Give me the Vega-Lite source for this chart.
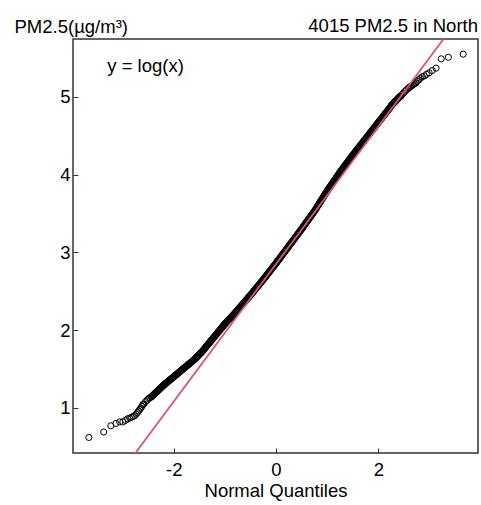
{
"$schema": "https://vega.github.io/schema/vega-lite/v6.json",
"width": 405, "height": 414,
"autosize": {"type": "none"},
"padding": {"left": 73, "top": 39, "right": 3, "bottom": 52},
"background": "white",
"config": {
  "view": {"stroke": "#333333", "strokeWidth": 1.5},
  "font": "Liberation Sans",
  "axis": {"domain": false, "grid": false, "tickSize": -5, "tickColor": "#333333", "tickWidth": 1,
    "labelFont": "Liberation Sans", "labelFontSize": 18.5, "labelColor": "black",
    "titleFont": "Liberation Sans", "titleFontSize": 18.5, "titleFontWeight": "normal", "titleColor": "black"}
},
"title": {"text": "4015 PM2.5 in North", "anchor": "end", "frame": "group", "fontSize": 18.5, "fontWeight": "normal", "font": "Liberation Sans", "color": "black", "offset": 7, "baseline": "alphabetic", "dy": 40},
"datasets": {
  "qq": [
{"x":-3.66,"y":0.62},{"x":-3.37,"y":0.69},{"x":-3.23,"y":0.77},{"x":-3.13,"y":0.80},{"x":-3.056,"y":0.82},{"x":-2.995,"y":0.82},{"x":-2.944,"y":0.84},{"x":-2.90,"y":0.86},{"x":-2.86,"y":0.87},{"x":-2.825,"y":0.88},{"x":-2.792,"y":0.89},{"x":-2.763,"y":0.90},{"x":-2.736,"y":0.92},{"x":-2.71,"y":0.94},{"x":-2.686,"y":0.96},{"x":-2.664,"y":0.98},{"x":-2.643,"y":1.00},{"x":-2.623,"y":1.02},{"x":-2.604,"y":1.04},{"x":-2.586,"y":1.05},{"x":-2.552,"y":1.08},{"x":-2.521,"y":1.10},{"x":-2.492,"y":1.12},{"x":-2.465,"y":1.13},{"x":-2.44,"y":1.14},
{"x":-2.42,"y":1.153},{"x":-2.40,"y":1.165},{"x":-2.38,"y":1.178},{"x":-2.36,"y":1.190},{"x":-2.34,"y":1.203},{"x":-2.32,"y":1.215},{"x":-2.30,"y":1.228},{"x":-2.28,"y":1.240},{"x":-2.26,"y":1.253},{"x":-2.24,"y":1.265},{"x":-2.22,"y":1.278},{"x":-2.20,"y":1.290},
{"x":-2.18,"y":1.301},{"x":-2.16,"y":1.312},{"x":-2.14,"y":1.323},{"x":-2.12,"y":1.334},{"x":-2.10,"y":1.345},{"x":-2.08,"y":1.356},{"x":-2.06,"y":1.367},{"x":-2.04,"y":1.378},{"x":-2.02,"y":1.389},{"x":-2.00,"y":1.400},
{"x":-1.98,"y":1.411},{"x":-1.96,"y":1.422},{"x":-1.94,"y":1.433},{"x":-1.92,"y":1.444},{"x":-1.90,"y":1.455},{"x":-1.88,"y":1.466},{"x":-1.86,"y":1.477},{"x":-1.84,"y":1.488},{"x":-1.82,"y":1.499},{"x":-1.80,"y":1.510},
{"x":-1.78,"y":1.521},{"x":-1.76,"y":1.532},{"x":-1.74,"y":1.543},{"x":-1.72,"y":1.554},{"x":-1.70,"y":1.565},{"x":-1.68,"y":1.576},{"x":-1.66,"y":1.587},{"x":-1.64,"y":1.598},{"x":-1.62,"y":1.609},{"x":-1.60,"y":1.620},
{"x":-1.58,"y":1.633},{"x":-1.56,"y":1.647},{"x":-1.54,"y":1.660},{"x":-1.52,"y":1.673},{"x":-1.50,"y":1.687},{"x":-1.48,"y":1.700},{"x":-1.46,"y":1.713},
{"x":-1.44,"y":1.728},{"x":-1.42,"y":1.744},{"x":-1.40,"y":1.760},{"x":-1.38,"y":1.776},{"x":-1.36,"y":1.792},{"x":-1.34,"y":1.808},{"x":-1.32,"y":1.824},{"x":-1.30,"y":1.840},{"x":-1.28,"y":1.856},{"x":-1.26,"y":1.872},{"x":-1.24,"y":1.888},{"x":-1.22,"y":1.904},{"x":-1.20,"y":1.920},
{"x":-1.18,"y":1.936},{"x":-1.16,"y":1.952},{"x":-1.14,"y":1.968},{"x":-1.12,"y":1.984},{"x":-1.10,"y":2.000},{"x":-1.08,"y":2.016},{"x":-1.06,"y":2.032},{"x":-1.04,"y":2.048},{"x":-1.02,"y":2.064},{"x":-1.00,"y":2.080},
{"x":-0.98,"y":2.094},{"x":-0.96,"y":2.108},{"x":-0.94,"y":2.122},{"x":-0.92,"y":2.136},{"x":-0.90,"y":2.150},{"x":-0.88,"y":2.164},{"x":-0.86,"y":2.178},{"x":-0.84,"y":2.192},{"x":-0.82,"y":2.206},{"x":-0.80,"y":2.220},
{"x":-0.78,"y":2.235},{"x":-0.76,"y":2.251},{"x":-0.74,"y":2.266},{"x":-0.72,"y":2.281},{"x":-0.70,"y":2.297},{"x":-0.68,"y":2.312},{"x":-0.66,"y":2.327},{"x":-0.64,"y":2.343},{"x":-0.62,"y":2.358},{"x":-0.60,"y":2.373},{"x":-0.58,"y":2.389},{"x":-0.56,"y":2.404},{"x":-0.54,"y":2.419},{"x":-0.52,"y":2.435},{"x":-0.50,"y":2.450},
{"x":-0.48,"y":2.466},{"x":-0.46,"y":2.482},{"x":-0.44,"y":2.498},{"x":-0.42,"y":2.514},{"x":-0.40,"y":2.530},{"x":-0.38,"y":2.546},{"x":-0.36,"y":2.562},{"x":-0.34,"y":2.578},{"x":-0.32,"y":2.594},{"x":-0.30,"y":2.610},{"x":-0.28,"y":2.626},{"x":-0.26,"y":2.642},
{"x":-0.24,"y":2.658},{"x":-0.22,"y":2.675},{"x":-0.20,"y":2.692},{"x":-0.18,"y":2.709},{"x":-0.16,"y":2.726},{"x":-0.14,"y":2.742},{"x":-0.12,"y":2.759},{"x":-0.10,"y":2.776},{"x":-0.08,"y":2.793},{"x":-0.06,"y":2.810},{"x":-0.04,"y":2.826},{"x":-0.02,"y":2.843},{"x":0.00,"y":2.860},
{"x":0.02,"y":2.878},{"x":0.04,"y":2.895},{"x":0.06,"y":2.913},{"x":0.08,"y":2.930},{"x":0.10,"y":2.948},{"x":0.12,"y":2.966},{"x":0.14,"y":2.983},{"x":0.16,"y":3.001},{"x":0.18,"y":3.018},{"x":0.20,"y":3.036},{"x":0.22,"y":3.054},{"x":0.24,"y":3.071},
{"x":0.26,"y":3.089},{"x":0.28,"y":3.106},{"x":0.30,"y":3.124},{"x":0.32,"y":3.142},{"x":0.34,"y":3.159},{"x":0.36,"y":3.177},{"x":0.38,"y":3.194},{"x":0.40,"y":3.212},{"x":0.42,"y":3.230},{"x":0.44,"y":3.247},{"x":0.46,"y":3.265},{"x":0.48,"y":3.282},{"x":0.50,"y":3.300},
{"x":0.52,"y":3.318},{"x":0.54,"y":3.337},{"x":0.56,"y":3.355},{"x":0.58,"y":3.374},{"x":0.60,"y":3.392},{"x":0.62,"y":3.410},{"x":0.64,"y":3.429},{"x":0.66,"y":3.447},{"x":0.68,"y":3.466},{"x":0.70,"y":3.484},{"x":0.72,"y":3.502},{"x":0.74,"y":3.521},
{"x":0.76,"y":3.540},{"x":0.78,"y":3.561},{"x":0.80,"y":3.582},{"x":0.82,"y":3.603},{"x":0.84,"y":3.623},{"x":0.86,"y":3.644},{"x":0.88,"y":3.665},{"x":0.90,"y":3.686},{"x":0.92,"y":3.707},{"x":0.94,"y":3.728},{"x":0.96,"y":3.748},{"x":0.98,"y":3.769},{"x":1.00,"y":3.790},
{"x":1.02,"y":3.809},{"x":1.04,"y":3.828},{"x":1.06,"y":3.848},{"x":1.08,"y":3.867},{"x":1.10,"y":3.886},{"x":1.12,"y":3.905},{"x":1.14,"y":3.924},{"x":1.16,"y":3.944},{"x":1.18,"y":3.963},{"x":1.20,"y":3.982},{"x":1.22,"y":4.001},{"x":1.24,"y":4.020},
{"x":1.26,"y":4.039},{"x":1.28,"y":4.056},{"x":1.30,"y":4.074},{"x":1.32,"y":4.092},{"x":1.34,"y":4.109},{"x":1.36,"y":4.127},{"x":1.38,"y":4.144},{"x":1.40,"y":4.162},{"x":1.42,"y":4.180},{"x":1.44,"y":4.197},{"x":1.46,"y":4.215},{"x":1.48,"y":4.232},{"x":1.50,"y":4.250},
{"x":1.52,"y":4.267},{"x":1.54,"y":4.284},{"x":1.56,"y":4.300},{"x":1.58,"y":4.317},{"x":1.60,"y":4.334},{"x":1.62,"y":4.351},{"x":1.64,"y":4.368},{"x":1.66,"y":4.384},{"x":1.68,"y":4.401},{"x":1.70,"y":4.418},{"x":1.72,"y":4.435},{"x":1.74,"y":4.452},
{"x":1.76,"y":4.468},{"x":1.78,"y":4.485},{"x":1.80,"y":4.502},{"x":1.82,"y":4.519},{"x":1.84,"y":4.536},{"x":1.86,"y":4.552},{"x":1.88,"y":4.569},{"x":1.90,"y":4.586},{"x":1.92,"y":4.603},{"x":1.94,"y":4.620},{"x":1.96,"y":4.636},{"x":1.98,"y":4.653},{"x":2.00,"y":4.670},
{"x":2.02,"y":4.687},{"x":2.04,"y":4.704},{"x":2.06,"y":4.720},{"x":2.08,"y":4.737},{"x":2.10,"y":4.754},{"x":2.12,"y":4.771},{"x":2.14,"y":4.788},{"x":2.16,"y":4.804},{"x":2.18,"y":4.821},{"x":2.20,"y":4.838},{"x":2.22,"y":4.855},{"x":2.24,"y":4.872},
{"x":2.26,"y":4.894},{"x":2.28,"y":4.908},{"x":2.30,"y":4.921},{"x":2.32,"y":4.935},{"x":2.34,"y":4.949},{"x":2.36,"y":4.963},{"x":2.38,"y":4.976},{"x":2.40,"y":4.990},{"x":2.42,"y":5.004},
{"x":2.44,"y":5.01},{"x":2.465,"y":5.03},{"x":2.492,"y":5.05},{"x":2.521,"y":5.07},{"x":2.552,"y":5.09},{"x":2.586,"y":5.11},{"x":2.604,"y":5.12},{"x":2.623,"y":5.13},{"x":2.643,"y":5.14},{"x":2.664,"y":5.15},{"x":2.686,"y":5.16},{"x":2.71,"y":5.17},{"x":2.736,"y":5.18},{"x":2.763,"y":5.20},{"x":2.792,"y":5.22},{"x":2.825,"y":5.24},{"x":2.86,"y":5.26},{"x":2.90,"y":5.27},{"x":2.944,"y":5.29},{"x":2.995,"y":5.31},{"x":3.056,"y":5.34},{"x":3.13,"y":5.37},{"x":3.23,"y":5.49},{"x":3.37,"y":5.51},{"x":3.66,"y":5.55},
{"x":-2.43,"y":1.147},{"x":-2.41,"y":1.159},{"x":-2.39,"y":1.172},{"x":-2.37,"y":1.184},{"x":-2.35,"y":1.197},{"x":-2.33,"y":1.209},{"x":-2.31,"y":1.222},{"x":-2.29,"y":1.234},{"x":-2.27,"y":1.247},{"x":-2.25,"y":1.259},{"x":-2.23,"y":1.272},{"x":-2.21,"y":1.284},
{"x":-2.19,"y":1.296},{"x":-2.17,"y":1.307},{"x":-2.15,"y":1.318},{"x":-2.13,"y":1.329},{"x":-2.11,"y":1.340},{"x":-2.09,"y":1.351},{"x":-2.07,"y":1.362},{"x":-2.05,"y":1.373},{"x":-2.03,"y":1.384},{"x":-2.01,"y":1.395},
{"x":-1.99,"y":1.406},{"x":-1.97,"y":1.417},{"x":-1.95,"y":1.428},{"x":-1.93,"y":1.439},{"x":-1.91,"y":1.450},{"x":-1.89,"y":1.461},{"x":-1.87,"y":1.472},{"x":-1.85,"y":1.483},{"x":-1.83,"y":1.494},{"x":-1.81,"y":1.505},
{"x":-1.79,"y":1.516},{"x":-1.77,"y":1.527},{"x":-1.75,"y":1.538},{"x":-1.73,"y":1.549},{"x":-1.71,"y":1.560},{"x":-1.69,"y":1.571},{"x":-1.67,"y":1.582},{"x":-1.65,"y":1.593},{"x":-1.63,"y":1.604},{"x":-1.61,"y":1.615},
{"x":-1.59,"y":1.627},{"x":-1.57,"y":1.640},{"x":-1.55,"y":1.654},{"x":-1.53,"y":1.667},{"x":-1.51,"y":1.680},{"x":-1.49,"y":1.694},{"x":-1.47,"y":1.707},{"x":-1.45,"y":1.720},
{"x":-1.43,"y":1.736},{"x":-1.41,"y":1.752},{"x":-1.39,"y":1.768},{"x":-1.37,"y":1.784},{"x":-1.35,"y":1.800},{"x":-1.33,"y":1.816},{"x":-1.31,"y":1.832},{"x":-1.29,"y":1.848},{"x":-1.27,"y":1.864},{"x":-1.25,"y":1.880},{"x":-1.23,"y":1.896},{"x":-1.21,"y":1.912},
{"x":-1.19,"y":1.928},{"x":-1.17,"y":1.944},{"x":-1.15,"y":1.960},{"x":-1.13,"y":1.976},{"x":-1.11,"y":1.992},{"x":-1.09,"y":2.008},{"x":-1.07,"y":2.024},{"x":-1.05,"y":2.040},{"x":-1.03,"y":2.056},{"x":-1.01,"y":2.072},
{"x":-0.99,"y":2.087},{"x":-0.97,"y":2.101},{"x":-0.95,"y":2.115},{"x":-0.93,"y":2.129},{"x":-0.91,"y":2.143},{"x":-0.89,"y":2.157},{"x":-0.87,"y":2.171},{"x":-0.85,"y":2.185},{"x":-0.83,"y":2.199},{"x":-0.81,"y":2.213},
{"x":-0.79,"y":2.228},{"x":-0.77,"y":2.243},{"x":-0.75,"y":2.258},{"x":-0.73,"y":2.274},{"x":-0.71,"y":2.289},{"x":-0.69,"y":2.304},{"x":-0.67,"y":2.320},{"x":-0.65,"y":2.335},{"x":-0.63,"y":2.350},{"x":-0.61,"y":2.366},{"x":-0.59,"y":2.381},{"x":-0.57,"y":2.396},{"x":-0.55,"y":2.412},{"x":-0.53,"y":2.427},{"x":-0.51,"y":2.442},
{"x":-0.49,"y":2.458},{"x":-0.47,"y":2.474},{"x":-0.45,"y":2.490},{"x":-0.43,"y":2.506},{"x":-0.41,"y":2.522},{"x":-0.39,"y":2.538},{"x":-0.37,"y":2.554},{"x":-0.35,"y":2.570},{"x":-0.33,"y":2.586},{"x":-0.31,"y":2.602},{"x":-0.29,"y":2.618},{"x":-0.27,"y":2.634},{"x":-0.25,"y":2.650},
{"x":-0.23,"y":2.667},{"x":-0.21,"y":2.683},{"x":-0.19,"y":2.700},{"x":-0.17,"y":2.717},{"x":-0.15,"y":2.734},{"x":-0.13,"y":2.751},{"x":-0.11,"y":2.768},{"x":-0.09,"y":2.784},{"x":-0.07,"y":2.801},{"x":-0.05,"y":2.818},{"x":-0.03,"y":2.835},{"x":-0.01,"y":2.851},
{"x":0.01,"y":2.869},{"x":0.03,"y":2.886},{"x":0.05,"y":2.904},{"x":0.07,"y":2.922},{"x":0.09,"y":2.939},{"x":0.11,"y":2.957},{"x":0.13,"y":2.974},{"x":0.15,"y":2.992},{"x":0.17,"y":3.010},{"x":0.19,"y":3.027},{"x":0.21,"y":3.045},{"x":0.23,"y":3.062},{"x":0.25,"y":3.080},
{"x":0.27,"y":3.098},{"x":0.29,"y":3.115},{"x":0.31,"y":3.133},{"x":0.33,"y":3.150},{"x":0.35,"y":3.168},{"x":0.37,"y":3.186},{"x":0.39,"y":3.203},{"x":0.41,"y":3.221},{"x":0.43,"y":3.238},{"x":0.45,"y":3.256},{"x":0.47,"y":3.274},{"x":0.49,"y":3.291},
{"x":0.51,"y":3.309},{"x":0.53,"y":3.328},{"x":0.55,"y":3.346},{"x":0.57,"y":3.364},{"x":0.59,"y":3.383},{"x":0.61,"y":3.401},{"x":0.63,"y":3.420},{"x":0.65,"y":3.438},{"x":0.67,"y":3.456},{"x":0.69,"y":3.475},{"x":0.71,"y":3.493},{"x":0.73,"y":3.512},{"x":0.75,"y":3.530},
{"x":0.77,"y":3.550},{"x":0.79,"y":3.571},{"x":0.81,"y":3.592},{"x":0.83,"y":3.613},{"x":0.85,"y":3.634},{"x":0.87,"y":3.655},{"x":0.89,"y":3.676},{"x":0.91,"y":3.696},{"x":0.93,"y":3.717},{"x":0.95,"y":3.738},{"x":0.97,"y":3.759},{"x":0.99,"y":3.780},
{"x":1.01,"y":3.800},{"x":1.03,"y":3.819},{"x":1.05,"y":3.838},{"x":1.07,"y":3.857},{"x":1.09,"y":3.876},{"x":1.11,"y":3.896},{"x":1.13,"y":3.915},{"x":1.15,"y":3.934},{"x":1.17,"y":3.953},{"x":1.19,"y":3.972},{"x":1.21,"y":3.992},{"x":1.23,"y":4.011},{"x":1.25,"y":4.030},
{"x":1.27,"y":4.048},{"x":1.29,"y":4.065},{"x":1.31,"y":4.083},{"x":1.33,"y":4.100},{"x":1.35,"y":4.118},{"x":1.37,"y":4.136},{"x":1.39,"y":4.153},{"x":1.41,"y":4.171},{"x":1.43,"y":4.188},{"x":1.45,"y":4.206},{"x":1.47,"y":4.224},{"x":1.49,"y":4.241},
{"x":1.51,"y":4.258},{"x":1.53,"y":4.275},{"x":1.55,"y":4.292},{"x":1.57,"y":4.309},{"x":1.59,"y":4.326},{"x":1.61,"y":4.342},{"x":1.63,"y":4.359},{"x":1.65,"y":4.376},{"x":1.67,"y":4.393},{"x":1.69,"y":4.410},{"x":1.71,"y":4.426},{"x":1.73,"y":4.443},{"x":1.75,"y":4.460},
{"x":1.77,"y":4.477},{"x":1.79,"y":4.494},{"x":1.81,"y":4.510},{"x":1.83,"y":4.527},{"x":1.85,"y":4.544},{"x":1.87,"y":4.561},{"x":1.89,"y":4.578},{"x":1.91,"y":4.594},{"x":1.93,"y":4.611},{"x":1.95,"y":4.628},{"x":1.97,"y":4.645},{"x":1.99,"y":4.662},
{"x":2.01,"y":4.678},{"x":2.03,"y":4.695},{"x":2.05,"y":4.712},{"x":2.07,"y":4.729},{"x":2.09,"y":4.746},{"x":2.11,"y":4.762},{"x":2.13,"y":4.779},{"x":2.15,"y":4.796},{"x":2.17,"y":4.813},{"x":2.19,"y":4.830},{"x":2.21,"y":4.846},{"x":2.23,"y":4.863},{"x":2.25,"y":4.883},
{"x":2.27,"y":4.901},{"x":2.29,"y":4.915},{"x":2.31,"y":4.928},{"x":2.33,"y":4.942},{"x":2.35,"y":4.956},{"x":2.37,"y":4.970},{"x":2.39,"y":4.983},{"x":2.41,"y":4.997},{"x":2.43,"y":5.007}
  ],
  "ref": [{"x": -3.97, "y": -0.659}, {"x": 3.95, "y": 6.342}],
  "lab": [{"x": -3.30, "y": 5.32, "t": "y = log(x)"}]
},
"layer": [
  {"data": {"name": "qq"},
   "mark": {"type": "point", "shape": "circle", "filled": false, "color": "black", "size": 38, "strokeWidth": 1, "opacity": 1},
   "encoding": {
     "x": {"field": "x", "type": "quantitative", "scale": {"domain": [-3.97, 3.95], "nice": false, "zero": false},
       "axis": {"values": [-2, 0, 2], "labelExpr": "'' + datum.value", "title": "Normal Quantiles", "labelPadding": 12, "titleBaseline": "alphabetic", "titleY": 43}},
     "y": {"field": "y", "type": "quantitative", "scale": {"domain": [0.42, 5.745], "nice": false, "zero": false},
       "axis": {"values": [1, 2, 3, 4, 5], "labelExpr": "'' + datum.value", "title": "PM2.5(µg/m³)", "labelPadding": 8, "labelAngle": 0, "titleAngle": 0, "titleAlign": "left", "titleBaseline": "alphabetic", "titleX": -59, "titleY": -7}}
   }},
  {"data": {"name": "ref"},
   "mark": {"type": "line", "color": "#DF536B", "strokeWidth": 1.8, "clip": true},
   "encoding": {"x": {"field": "x", "type": "quantitative"}, "y": {"field": "y", "type": "quantitative"}}},
  {"data": {"name": "lab"},
   "mark": {"type": "text", "align": "left", "baseline": "alphabetic", "fontSize": 18.5, "font": "Liberation Sans", "color": "black"},
   "encoding": {"x": {"field": "x", "type": "quantitative"}, "y": {"field": "y", "type": "quantitative"}, "text": {"field": "t"}}}
]
}
